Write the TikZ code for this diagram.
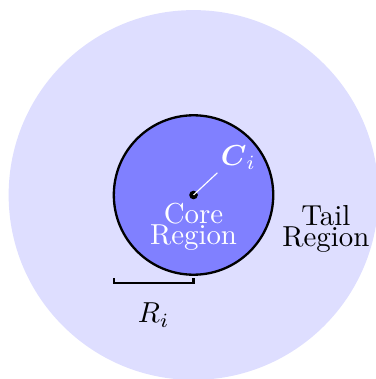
\documentclass[tikz,border=0pt]{standalone}
\usepackage{amsmath}
\usepackage{xcolor}
\usepackage{tikz}
\usetikzlibrary{positioning, calc}

\begin{document}
\begin{tikzpicture}[
  tail/.style={fill=blue!13, draw=none},
  core/.style={fill=blue!50, draw=black, thick},
  lbl/.style={align=center, inner sep=1pt},
  bracket/.style={thick}
]
\useasboundingbox (-2.355,-2.239) rectangle (2.209,2.373);

% regions
\fill[tail] (0,0) circle (2.25);
\draw[core] (0,0) circle (0.97);

% centre and its label
\coordinate (ctr) at (0,0);
\fill (ctr) circle (1.5pt);
\node[lbl, text=white, anchor=south west] (clabel) at (0.29,0.27) {$\boldsymbol{C}_i$};
\draw[white, thin] (ctr) -- (clabel.south west);

\node[lbl, text=white] (core) at (0,-0.39) {Core\\[-4.7pt]Region};
\node[lbl] (tailtxt) at (1.61,-0.41) {Tail\\[-4.7pt]Region};

% radius bracket
\coordinate (bl) at (-0.97,-1.07);
\coordinate (br) at (0,-1.07);
\draw[bracket] ([yshift=0.06cm]bl) -- (bl) -- (br) -- ([yshift=0.06cm]br);
\node[below=0.12cm of $(bl)!0.5!(br)$] (rlabel) {$R_i$};
\end{tikzpicture}
\end{document}
